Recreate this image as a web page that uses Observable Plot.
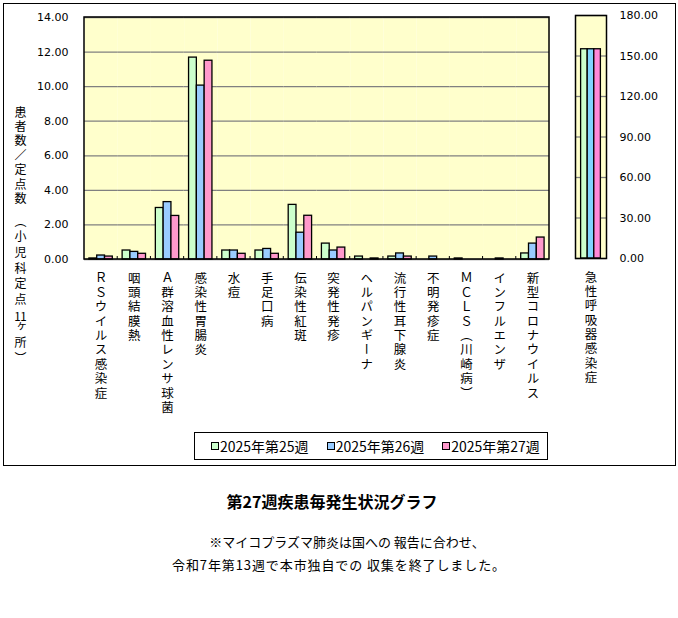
<!DOCTYPE html>
<html><head><meta charset="utf-8">
<script src="https://cdn.jsdelivr.net/npm/d3@7"></script>
<script src="https://cdn.jsdelivr.net/npm/@observablehq/plot@0.6"></script>
<style>
body{margin:0;background:#fff;}
#wrap{position:relative;width:678px;height:618px;font-family:"Noto Sans CJK JP",sans-serif;color:#000;overflow:hidden;}
#frame{position:absolute;left:3px;top:3px;width:673px;height:463px;border:1.5px solid #000;box-sizing:border-box;}
#left,#right{position:absolute;top:0;}
#left{left:0;} #right{left:560px;}
svg{overflow:visible;}
#ytitle{position:absolute;left:12px;top:106px;writing-mode:vertical-rl;font-size:12px;letter-spacing:2.4px;line-height:16px;}
#ytitle .b{letter-spacing:3.6px;}
#legend{position:absolute;left:194px;top:432px;width:354px;height:28px;border:1px solid #000;box-sizing:border-box;background:#fff;display:flex;align-items:center;padding-left:16px;gap:18px;font-size:14px;}
.item{display:flex;align-items:center;white-space:nowrap;}
.sw{width:8px;height:8px;border:1px solid #000;box-sizing:border-box;margin-right:1px;}
#title{position:absolute;left:0;top:490px;width:664px;text-align:center;font-size:16px;font-weight:bold;line-height:22px;}
.cap{position:absolute;left:0;width:678px;text-align:center;font-size:13px;line-height:23px;white-space:nowrap;}
#cap1{top:530px;padding-left:16px;box-sizing:border-box;}
#cap2{top:553px;letter-spacing:0.9px;}
</style></head>
<body>
<div id="wrap">
  <div id="frame"></div>
  <div id="left"></div>
  <div id="right"></div>
  <div id="ytitle">患者数／定点数　<span class="b">（小児科定点<span style="text-combine-upright:all">11</span>ヶ所）</span></div>
  <div id="legend"></div>
  <div id="title">第27週疾患毎発生状況グラフ</div>
  <div class="cap" id="cap1">※マイコプラズマ肺炎は国への 報告に合わせ、</div>
  <div class="cap" id="cap2">令和7年第13週で本市独自での 収集を終了しました。</div>
</div>
<script>
const categories = ["ＲＳウイルス感染症","咽頭結膜熱","Ａ群溶血性レンサ球菌","感染性胃腸炎","水痘","手足口病","伝染性紅斑","突発性発疹","ヘルパンギーナ","流行性耳下腺炎","不明発疹症","ＭＣＬＳ（川崎病）","インフルエンザ","新型コロナウイルス"];
const weeks = ["2025年第25週","2025年第26週","2025年第27週"];
const week25 = [0.06, 0.52, 2.98, 11.68, 0.52, 0.52, 3.16, 0.92, 0.17, 0.17, 0, 0.06, 0, 0.35];
const week26 = [0.23, 0.44, 3.32, 10.06, 0.52, 0.61, 1.55, 0.52, 0, 0.35, 0.17, 0, 0.06, 0.92];
const week27 = [0.17, 0.33, 2.52, 11.50, 0.33, 0.33, 2.53, 0.69, 0.06, 0.17, 0, 0, 0, 1.27];
const ariCategory = ["急性呼吸器感染症"];
const ariValues = [155, 155, 155];
const leftTicks = [0, 2, 4, 6, 8, 10, 12, 14];
const rightTicks = [0, 30, 60, 90, 120, 150, 180];
const barColors = ["#ccffcc", "#99ccff", "#ff99cc"];
const ariColors = ["#ccffcc", "#80d4ff", "#ff88d8"];

const series = [week25, week26, week27];
const rows = categories.flatMap((c, i) => weeks.map((w, j) => ({cat: c, week: w, value: series[j][i]})));
const ariRows = weeks.map((w, j) => ({cat: ariCategory[0], week: w, value: ariValues[j]}));
const fmt = d3.format(".2f");

function verticalLabels(svg, labels) {
  const set = new Set(labels);
  d3.select(svg).selectAll("text").filter(function () { return set.has(this.textContent); })
    .attr("y", null).attr("dy", null)
    .attr("text-anchor", "start")
    .style("writing-mode", "vertical-rl")
    .style("letter-spacing", "1.9px");
}

const left = Plot.plot({
  width: 560, height: 430,
  marginLeft: 84, marginRight: 11, marginTop: 17, marginBottom: 171,
  style: {background: "transparent", fontFamily: "DejaVu Sans", fontSize: "11px", color: "#000", overflow: "visible"},
  fx: {domain: categories, padding: 0, round: false, axis: null},
  x: {domain: weeks, paddingInner: 0, paddingOuter: 0.63, round: false, axis: null},
  y: {domain: [0, 14], axis: null},
  color: {domain: weeks, range: barColors},
  marks: [
    Plot.frame({fill: "#ffffcc"}),
    Plot.gridY(leftTicks, {stroke: "#808080", strokeOpacity: 1, strokeWidth: 1.3}),
    Plot.barY(rows, {fx: "cat", x: "week", y: "value", fill: "week", stroke: "#000", strokeWidth: 1.3}),
    Plot.axisY(leftTicks, {tickFormat: fmt, tickSize: 0, tickPadding: 16, label: null}),
    Plot.text(categories, {fx: d => d, x: null, y: null, text: d => d, frameAnchor: "bottom", dy: 12, textAnchor: "start",
      fontFamily: "Noto Sans CJK JP", fontSize: 12.5})
  ]
});
verticalLabels(left, categories);
(function () {
  const svg = d3.select(left);
  let fxs, ys;
  try { fxs = left.scale("fx"); ys = left.scale("y"); } catch (e) {}
  const x0 = fxs ? fxs.apply(categories[0]) : 84;
  const bw = fxs ? fxs.bandwidth : (560 - 95) / categories.length;
  const x1 = fxs ? fxs.apply(categories[categories.length - 1]) + bw : 549;
  const yb = ys ? ys.apply(0) : 259, yt = ys ? ys.apply(14) : 17;
  const g = svg.append("g");
  g.selectAll("line").data(categories.slice(1)).join("line")
    .attr("x1", c => fxs ? fxs.apply(c) : 0).attr("x2", c => fxs ? fxs.apply(c) : 0)
    .attr("y1", yb).attr("y2", yb - 3).attr("stroke", "#000").attr("stroke-width", 1);
  g.append("rect").attr("x", x0).attr("y", yt).attr("width", x1 - x0).attr("height", yb - yt)
    .attr("fill", "none").attr("stroke", "#000").attr("stroke-width", 1.5);
})();
document.getElementById("left").appendChild(left);

const right = Plot.plot({
  width: 118, height: 400,
  marginLeft: 15, marginRight: 72, marginTop: 15, marginBottom: 142,
  style: {background: "transparent", fontFamily: "DejaVu Sans", fontSize: "11px", color: "#000", overflow: "visible"},
  x: {domain: weeks, paddingInner: 0, paddingOuter: 0.85, round: false, axis: null},
  y: {domain: [0, 180], axis: null},
  color: {domain: weeks, range: ariColors},
  marks: [
    Plot.frame({fill: "#ffffcc"}),
    Plot.gridY(rightTicks, {stroke: "#808080", strokeOpacity: 1, strokeWidth: 1.3}),
    Plot.barY(ariRows, {x: "week", y: "value", fill: "week", stroke: "#000", strokeWidth: 1.3}),
    Plot.frame({stroke: "#000", strokeWidth: 1.5}),
    Plot.axisY(rightTicks, {anchor: "right", tickFormat: fmt, tickSize: 0, tickPadding: 13, label: null}),
    Plot.text(ariCategory, {x: null, y: null, text: d => d, frameAnchor: "bottom", dy: 12, textAnchor: "start",
      fontFamily: "Noto Sans CJK JP", fontSize: 12.5})
  ]
});
verticalLabels(right, ariCategory);
document.getElementById("right").appendChild(right);

const legend = d3.select("#legend");
weeks.forEach((w, j) => {
  const it = legend.append("div").attr("class", "item");
  it.append("div").attr("class", "sw").style("background", barColors[j]);
  it.append("span").text(w);
});
</script>
</body></html>
